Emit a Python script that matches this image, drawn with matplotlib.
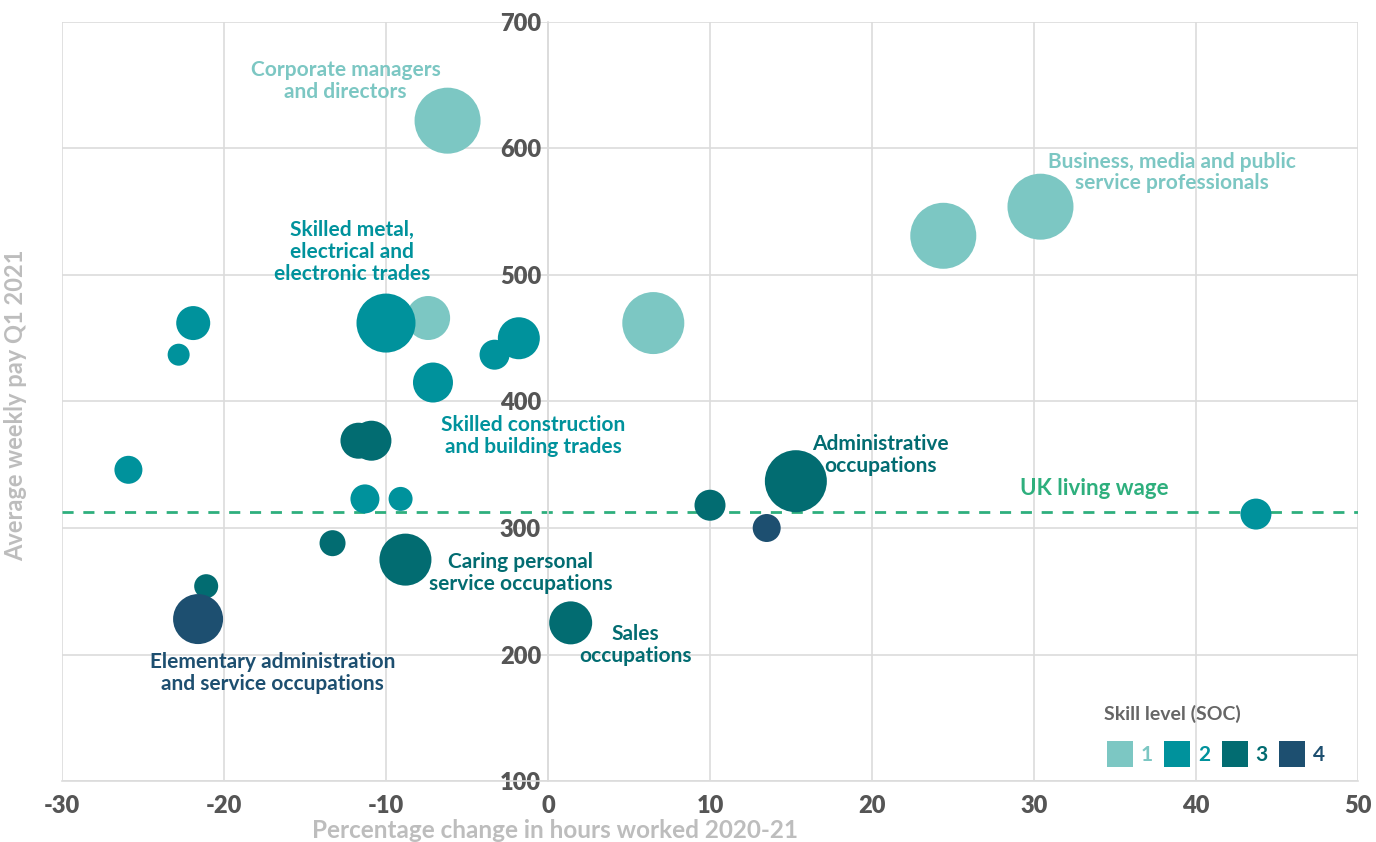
import matplotlib
matplotlib.use("Agg")
import matplotlib.pyplot as plt
from matplotlib.lines import Line2D

# ─── data ───────────────────────────────────────
hours_change = [-6.2, 30.4, 24.4, 6.5, -7.4,
                -10.0, -21.9, -22.8, -1.8, -3.3, -7.1, -25.9, -11.3, -9.1, 43.7,
                -11.7, -10.9, 15.3, 10.0, -13.3, -8.8, -21.1, 1.4,
                13.5, -21.6]
weekly_pay = [622, 554, 531, 462, 466,
              462, 462, 437, 450, 437, 415, 346, 323, 323, 311,
              369, 369, 337, 318, 288, 275, 254, 225,
              300, 228]
skill_level = [1, 1, 1, 1, 1,
               2, 2, 2, 2, 2, 2, 2, 2, 2, 2,
               3, 3, 3, 3, 3, 3, 3, 3,
               4, 4]
# relative bubble radius
bubble = [33, 33, 33, 31, 22,
          29.5, 17, 11, 21, 15, 20, 14, 14.5, 12, 15.5,
          18, 20, 31, 15.5, 13, 26, 12, 21.5,
          14, 25]

living_wage = 313

levels = [1, 2, 3, 4]
level_colors = {1: "#7cc7c3", 2: "#00929c", 3: "#026c71", 4: "#1d4f70"}

labels = ["Corporate managers\nand directors",
          "Business, media and public\nservice professionals",
          "Skilled metal,\nelectrical and\nelectronic trades",
          "Skilled construction\nand building trades",
          "Administrative\noccupations",
          "Caring personal\nservice occupations",
          "Sales\noccupations",
          "Elementary administration\nand service occupations"]
label_levels = [1, 1, 2, 2, 3, 3, 3, 4]

# ─── style ──────────────────────────────────────
plt.rcParams['font.family'] = ['Lato', 'DejaVu Sans']
plt.rcParams['axes.unicode_minus'] = False
GRID = "#dcdcdc"
TICK = "#555555"
AXLAB = "#bdbdbd"
GREEN = "#2eaf7d"

fig = plt.figure(figsize=(13.76, 8.42), dpi=100)
ax = fig.add_axes([62/1376, 61/842, 1296/1376, 759/842])

# bubbles, lighter levels first
for lv in levels:
    idx = [i for i, s in enumerate(skill_level) if s == lv]
    xs = [hours_change[i] for i in idx]
    ys = [weekly_pay[i] for i in idx]
    ss = [(2 * bubble[i] * 72 / 100) ** 2 for i in idx]
    ax.scatter(xs, ys, s=ss, color=level_colors[lv], linewidths=0, zorder=3)

ax.axhline(living_wage, color=GREEN, lw=2, ls=(0, (4, 3.5)), zorder=2)
ax.text(33.7, living_wage + 18, "UK living wage", color=GREEN, fontsize=16,
        fontweight='bold', ha='center', va='center')

# occupation labels
label_pos = [(-12.5, 653), (38.5, 581), (-12.1, 518), (-0.9, 373),
             (20.5, 358), (-1.7, 264.5), (5.4, 207.5), (-17.0, 185.5)]
for txt, lv, (lx, ly) in zip(labels, label_levels, label_pos):
    ax.text(lx, ly, txt, color=level_colors[lv], fontsize=15, fontweight='bold',
            ha='center', va='center', linespacing=1.12, zorder=4)

# axes
ax.set_xlim(-30, 50)
ax.set_ylim(100, 700)
ax.set_xticks(range(-30, 51, 10))
ax.set_yticks(range(100, 701, 100))
ax.grid(True, color=GRID, lw=1.2, zorder=0)
ax.set_axisbelow(True)
ax.spines['left'].set_position(('data', 0))
for sp in ('left', 'bottom'):
    ax.spines[sp].set_color(GRID)
    ax.spines[sp].set_linewidth(1.2)
for sp in ('top', 'right'):
    ax.spines[sp].set_visible(False)
ax.tick_params(length=0, labelsize=17, labelcolor=TICK)
ax.tick_params(axis='x', pad=10)
ax.tick_params(axis='y', pad=5)
for lab in ax.get_xticklabels() + ax.get_yticklabels():
    lab.set_fontweight('heavy')

ax.set_ylabel("Average weekly pay Q1 2021", color=AXLAB, fontsize=17, fontweight='bold')
ax.yaxis.set_label_coords(-0.027, 0.495)
fig.text(555/1376, 1 - 831/842, "Percentage change in hours worked 2020-21",
         color=AXLAB, fontsize=17.5, fontweight='bold', ha='center', va='center')

# legend
handles = [Line2D([], [], marker='s', ls='', markersize=19,
                  markerfacecolor=level_colors[lv], markeredgewidth=0, label=str(lv))
           for lv in levels]
leg = ax.legend(handles=handles, ncol=4, frameon=False, loc='lower right',
                bbox_to_anchor=(0.989, -0.004), title="Skill level (SOC)",
                title_fontproperties={'size': 14, 'weight': 'bold'},
                prop={'size': 15, 'weight': 'bold'}, labelcolor='markerfacecolor',
                handletextpad=0.25, columnspacing=0.42, handlelength=1.5,
                alignment='left')
leg.get_title().set_color("#666666")
leg._legend_box.sep = 16

fig.savefig("out.png", dpi=100)
